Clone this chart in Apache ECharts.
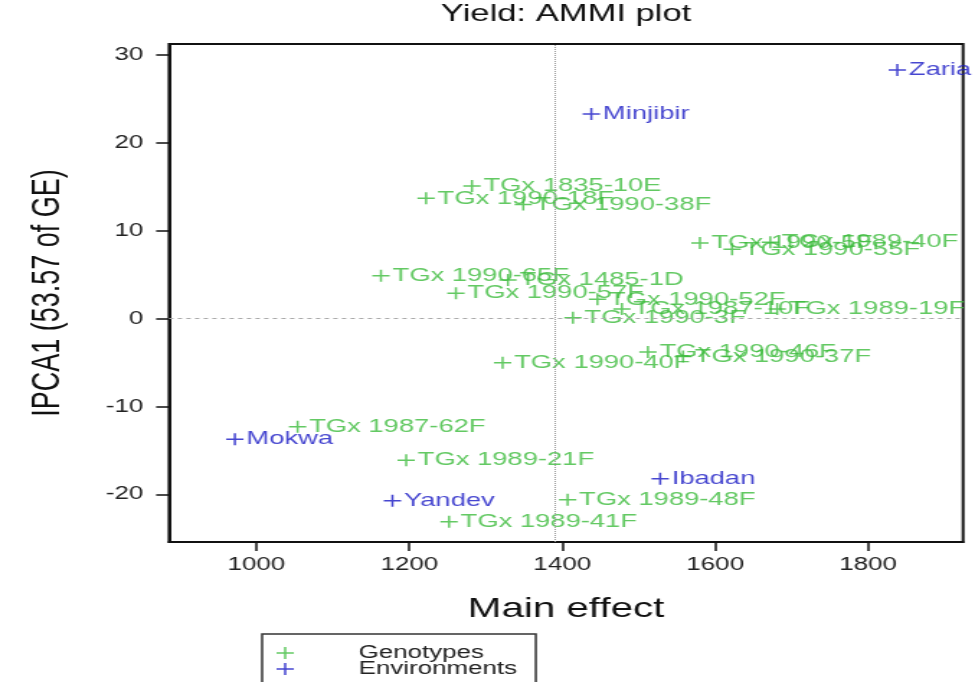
<!DOCTYPE html>
<html><head><meta charset="utf-8">
<script src="https://cdn.jsdelivr.net/npm/echarts@6/dist/echarts.min.js"></script>
<style>
html,body{margin:0;padding:0;background:#fff;overflow:hidden;width:975px;height:682px}
#chart{width:677px;height:682px;transform:scaleX(1.4402);transform-origin:0 0;}
</style></head><body><div id="chart"></div>
<script>
const genotypeNames = ['TGx 1835-10E','TGx 1990-18F','TGx 1990-38F','TGx 1990-5F','TGx 1989-40F','TGx 1990-55F','TGx 1990-65F','TGx 1485-1D','TGx 1990-57F','TGx 1990-52F','TGx 1987-10F','TGx 1989-19F','TGx 1990-3F','TGx 1990-40F','TGx 1990-46F','TGx 1990-37F','TGx 1987-62F','TGx 1989-21F','TGx 1989-48F','TGx 1989-41F'];
const genotypeMain = [1282,1222,1349,1580,1672,1622,1163,1329,1261,1446,1478,1681,1414,1322,1512,1558,1054,1196,1407,1252];
const genotypeIPCA1 = [15.1,13.7,13.0,8.6,8.7,7.9,4.9,4.4,2.9,2.2,1.1,1.1,0.1,-5.0,-3.8,-4.3,-12.3,-16.1,-20.6,-23.1];
const envNames = ['Zaria','Minjibir','Mokwa','Ibadan','Yandev'];
const envMain = [1838,1438,972,1528,1178];
const envIPCA1 = [28.3,23.3,-13.7,-18.2,-20.7];
const xTicks = [1000,1200,1400,1600,1800];
const yTicks = [-20,-10,0,10,20,30];
const meanMain = 1391;

const GREEN = '#3cbc3c';
const BLUE = '#1818c4';
const FONT = '"Liberation Sans", Arial, Helvetica, sans-serif';
const PLUS = 'path://M5.25 0H6.75V5.25H12V6.75H6.75V12H5.25V6.75H0V5.25H5.25Z';

function pts(names, xs, ys) {
  return names.map((n, i) => ({ name: n, value: [xs[i], ys[i]] }));
}

const chart = echarts.init(document.getElementById('chart'), null, { width: 677, height: 682 });
chart.setOption({
  animation: false,
  backgroundColor: '#fff',
  title: {
    text: 'Yield: AMMI plot',
    left: 393, top: 0, textAlign: 'center', padding: [2, 0, 0, 0],
    textStyle: { fontFamily: FONT, fontSize: 24, fontWeight: 'normal', color: '#111' }
  },
  legend: {
    orient: 'vertical', left: 182, top: 634, height: 80,
    padding: [10, 13, 10, 10],
    borderColor: '#333', borderWidth: 1.5,
    itemWidth: 12, itemHeight: 12, itemGap: -2,
    selectedMode: false,
    data: [{ name: 'Genotypes', icon: PLUS }, { name: 'Environments', icon: PLUS }],
    textStyle: { fontFamily: FONT, fontSize: 18, color: '#222', lineHeight: 14, padding: [0, 0, 0, 40] }
  },
  grid: { left: 117.4, right: 8.3, top: 44, bottom: 140, show: true, borderColor: '#111', borderWidth: 2, backgroundColor: 'transparent' },
  xAxis: {
    type: 'value', min: 886, max: 1924,
    name: 'Main effect', nameLocation: 'middle', nameGap: 53,
    nameTextStyle: { fontFamily: FONT, fontSize: 28, color: '#111' },
    axisLine: { show: true, onZero: false, lineStyle: { color: '#111', width: 2 } },
    axisTick: { show: true, customValues: xTicks, length: 9, lineStyle: { color: '#111', width: 1.5 } },
    axisLabel: { customValues: xTicks, formatter: v => String(v), fontFamily: FONT, fontSize: 18, color: '#222', margin: 14 },
    splitLine: { show: false }
  },
  yAxis: {
    type: 'value', min: -25.4, max: 31.25,
    name: 'IPCA1 (53.57 of GE)', nameLocation: 'middle', nameGap: 70, nameRotate: 90,
    nameTextStyle: { fontFamily: FONT, fontSize: 27, color: '#111' },
    axisLine: { show: true, onZero: false, lineStyle: { color: '#111', width: 2 } },
    axisTick: { show: true, customValues: yTicks, length: 9, lineStyle: { color: '#111', width: 1.5 } },
    axisLabel: { customValues: yTicks, formatter: v => String(v), fontFamily: FONT, fontSize: 18, color: '#222', margin: 18 },
    splitLine: { show: false }
  },
  series: [
    {
      name: 'Genotypes', type: 'scatter', symbol: PLUS, symbolSize: 12,
      itemStyle: { color: GREEN },
      label: { show: true, position: 'right', distance: 2, formatter: '{b}', fontFamily: FONT, fontSize: 19, color: GREEN },
      data: pts(genotypeNames, genotypeMain, genotypeIPCA1),
      markLine: {
        silent: true, symbol: 'none', label: { show: false },
        lineStyle: { color: '#999', width: 1, type: 'dotted' },
        data: [
          { xAxis: meanMain },
          { yAxis: 0, lineStyle: { type: [3, 3], color: '#aaa', width: 1 } }
        ]
      }
    },
    {
      name: 'Environments', type: 'scatter', symbol: PLUS, symbolSize: 12,
      itemStyle: { color: BLUE },
      label: { show: true, position: 'right', distance: 2, formatter: '{b}', fontFamily: FONT, fontSize: 19, color: BLUE },
      data: pts(envNames, envMain, envIPCA1)
    }
  ]
});
</script></body></html>
